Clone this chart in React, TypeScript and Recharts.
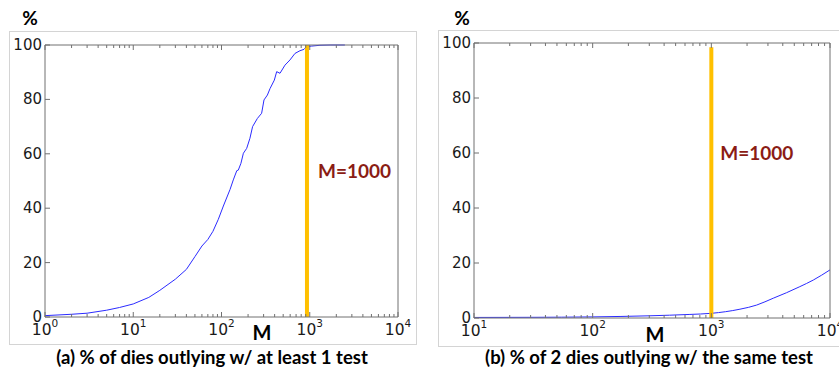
import { LineChart, Line, XAxis, YAxis, ReferenceLine, ReferenceDot } from "recharts"

// (a) share of dies outlying with at least one test, vs. number of tests M
const dieCountA = [1, 2, 3, 5, 7, 10, 15, 20, 30, 40, 50, 60, 70, 80, 92, 105, 125, 136, 149, 155, 166, 177, 193, 210, 225, 255, 285, 303, 331, 355, 397, 422, 460, 524, 597, 680, 775, 861, 922, 1052, 1306, 1700, 2500]
const pctAtLeastOne = [0.5, 1.0, 1.4, 2.5, 3.5, 4.8, 7.2, 9.8, 13.9, 17.5, 22.2, 26.1, 28.5, 31.5, 35.9, 40.8, 46.9, 50.4, 53.8, 54.0, 56.5, 60.2, 62, 65.7, 70, 73, 74.9, 79.8, 81.6, 84, 87.1, 90.2, 89.6, 92.6, 94.5, 96.9, 97.9, 98.4, 99.4, 99.6, 99.9, 100, 100]

// (b) share of two dies outlying with the same test
const dieCountB = [10, 30, 100, 300, 660, 1000, 1742, 2410, 3327, 4306, 5570, 7230, 10000]
const pctSameTest = [0.2, 0.25, 0.4, 0.8, 1.3, 1.7, 3.2, 4.7, 7.2, 9.2, 11.4, 13.8, 17.5]

const yTicks = [0, 20, 40, 60, 80, 100]
const decadesA = [1, 10, 100, 1000, 10000]
const decadesB = [10, 100, 1000, 10000]
const markerA = 930
const markerB = 1000
const markerTopB = 98.5
const markerLabel = "M=1000"

const dataA = dieCountA.map((m, i) => ({ m, pct: pctAtLeastOne[i] }))
const dataB = dieCountB.map((m, i) => ({ m, pct: pctSameTest[i] }))

const logTicks = (decades: number[]) => {
  const out: number[] = []
  decades.forEach((d, i) => {
    out.push(d)
    if (i < decades.length - 1) for (let k = 2; k < 10; k++) out.push(d * k)
  })
  return out
}

const AXIS = "#707070"
const TICK_FONT = "DejaVu Sans"
const BOLD_FONT = "Lato"

const isMajor = (v: number) => Math.abs(Math.log10(v) - Math.round(Math.log10(v))) < 1e-9

function BottomTick({ x, y, payload }: any) {
  const v = payload.value
  const major = isMajor(v)
  return (
    <g>
      <line x1={x} x2={x} y1={y} y2={y - (major ? 5 : 3)} stroke={AXIS} />
      {major && (
        <text x={x} y={y + 18} textAnchor="middle" fontFamily={TICK_FONT} fontSize={15.5} fill="#1a1a1a">
          10<tspan dy={-8} fontSize={10.5}>{Math.round(Math.log10(v))}</tspan>
        </text>
      )}
    </g>
  )
}

function TopTick({ x, y, payload }: any) {
  const major = isMajor(payload.value)
  return <line x1={x} x2={x} y1={y} y2={y + (major ? 5 : 3)} stroke={AXIS} />
}

function LeftTick({ x, y, payload }: any) {
  return (
    <g>
      <line x1={x} x2={x + 5} y1={y} y2={y} stroke={AXIS} />
      <text x={x - 3} y={y} dy={5} textAnchor="end" fontFamily={TICK_FONT} fontSize={15} fill="#1a1a1a">
        {payload.value}
      </text>
    </g>
  )
}

function RightTick({ x, y }: any) {
  return <line x1={x} x2={x - 5} y1={y} y2={y} stroke={AXIS} />
}

function MarkerText({ viewBox, gap }: any) {
  const cx = viewBox.x + viewBox.width / 2
  const cy = viewBox.y + viewBox.height / 2
  return (
    <text x={cx + gap} y={cy + 6} fill="#8b1c14" fontSize={19} fontWeight={700} fontFamily={BOLD_FONT}>
      {markerLabel}
    </text>
  )
}

function Panel({ data, decades, marker, markerTop, labelY, labelGap, width, margin, curve }: any) {
  const ticks = logTicks(decades)
  const domain = [decades[0], decades[decades.length - 1]]
  return (
    <LineChart width={width} height={372} data={data} margin={margin}>
      <XAxis xAxisId="b" dataKey="m" type="number" scale="log" domain={domain} ticks={ticks} interval={0}
        allowDataOverflow height={1} tickSize={0} tickMargin={0} tickLine={false} stroke={AXIS} tick={(p: any) => <BottomTick {...p} />} />
      <XAxis xAxisId="t" orientation="top" dataKey="m" type="number" scale="log" domain={domain} ticks={ticks} interval={0}
        allowDataOverflow height={1} tickSize={0} tickMargin={0} tickLine={false} stroke={AXIS} tick={(p: any) => <TopTick {...p} />} />
      <YAxis yAxisId="l" type="number" domain={[0, 100]} ticks={yTicks} interval={0} width={1}
        tickSize={0} tickMargin={0} tickLine={false} stroke={AXIS} tick={(p: any) => <LeftTick {...p} />} />
      <YAxis yAxisId="r" orientation="right" type="number" domain={[0, 100]} ticks={yTicks} interval={0} width={1}
        tickSize={0} tickMargin={0} tickLine={false} stroke={AXIS} tick={(p: any) => <RightTick {...p} />} />
      <Line xAxisId="b" yAxisId="l" type={curve} dataKey="pct" stroke="#2b2bff" strokeWidth={1} dot={false} isAnimationActive={false} />
      <ReferenceLine xAxisId="b" yAxisId="l" segment={[{ x: marker, y: 0 }, { x: marker, y: markerTop }]} stroke="#ffc000" strokeWidth={4} />
      <ReferenceDot xAxisId="b" yAxisId="l" x={marker} y={labelY} r={0} fill="none" stroke="none"
        label={{ content: (p: any) => <MarkerText {...p} gap={labelGap} /> }} />
    </LineChart>
  )
}

export default function App() {
  const bold = { fontFamily: BOLD_FONT, fontWeight: 700, fill: "#000" }
  return (
    <div style={{ position: "absolute", left: 0, top: 0, width: 839, height: 372, overflow: "hidden", background: "#fff" }}>
      <svg width={839} height={372} style={{ position: "absolute", left: 0, top: 0 }}>
        <rect x={9.5} y={31.5} width={407} height={313} fill="none" stroke="#d4d4d4" />
        <rect x={438.5} y={30.5} width={420} height={316} fill="none" stroke="#d4d4d4" />
        <text x={30} y={25} textAnchor="middle" fontSize={19} {...bold}>%</text>
        <text x={462} y={25} textAnchor="middle" fontSize={19} {...bold}>%</text>
        <text x={262} y={340} textAnchor="middle" fontSize={20} {...bold}>M</text>
        <text x={655} y={342} textAnchor="middle" fontSize={20} {...bold}>M</text>
        <text x={212} y={364} textAnchor="middle" fontSize={18.5} {...bold}>(a) % of dies outlying w/ at least 1 test</text>
        <text x={649} y={364} textAnchor="middle" fontSize={18.5} {...bold}>(b) % of 2 dies outlying w/ the same test</text>
      </svg>
      <div style={{ position: "absolute", left: 0, top: 0 }}>
        <Panel data={dataA} decades={decadesA} marker={markerA} markerTop={100} labelY={53.3} labelGap={11} curve="linear"
          width={420} margin={{ top: 44, right: 21, bottom: 54, left: 44 }} />
      </div>
      <div style={{ position: "absolute", left: 420, top: 0 }}>
        <Panel data={dataB} decades={decadesB} marker={markerB} markerTop={markerTopB} labelY={59.6} labelGap={9} curve="monotone"
          width={430} margin={{ top: 42, right: 19, bottom: 53, left: 53 }} />
      </div>
    </div>
  )
}
